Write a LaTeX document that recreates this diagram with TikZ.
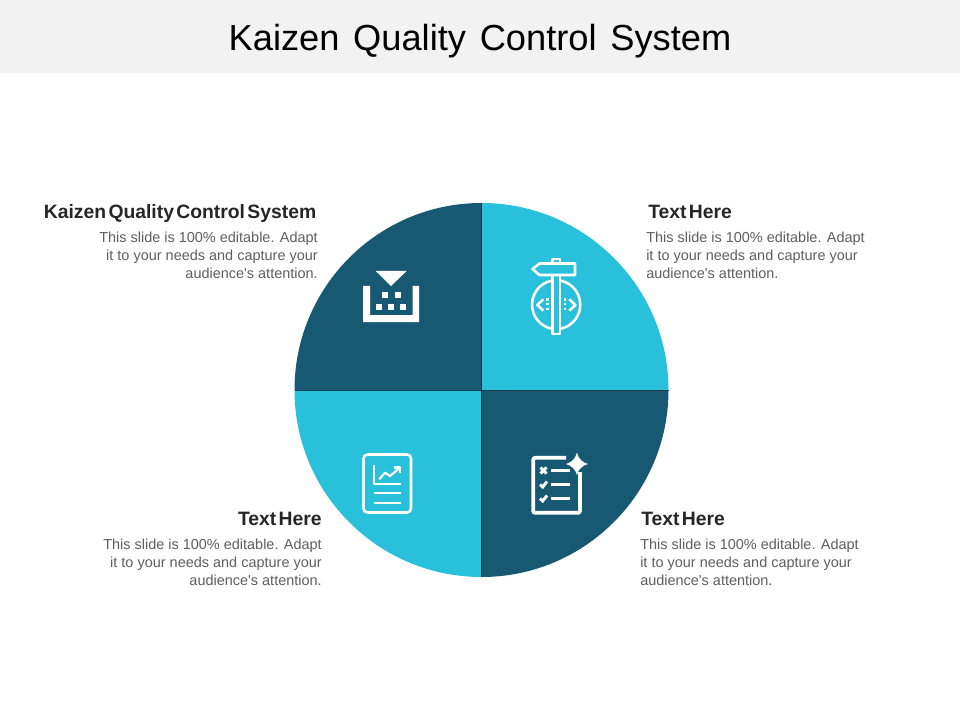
\documentclass[tikz,border=0pt]{standalone}
\usepackage{fontspec}
\setmainfont{Liberation Sans}
\newfontfamily\plainsans{Liberation Sans}
\definecolor{darkq}{HTML}{175873}
\definecolor{lightq}{HTML}{29C0DC}
\definecolor{headbg}{HTML}{F2F2F2}
\definecolor{bodyg}{HTML}{5F5F5F}
\definecolor{headk}{HTML}{262626}
\newcommand{\wgap}{\hspace{1.75pt}}
\tikzset{
  x=0.75pt,y=-0.75pt,
  heading/.style={inner sep=0pt,text=headk,font=\fontsize{14.5}{16}\selectfont\bfseries},
  bodytext/.style={inner sep=0pt,text=bodyg,font=\plainsans\fontsize{10.85}{13.25}\selectfont},
  icon/.style={draw=white,line width=1.9pt,fill=none,line join=round},
  iconthick/.style={draw=white,line width=2.8pt,fill=none}
}
\begin{document}
\begin{tikzpicture}
\useasboundingbox (0,0) rectangle (960,720);
\fill[white] (0,0) rectangle (960,720);
\fill[headbg] (0,0) rectangle (960,73);
\node[inner sep=0pt,anchor=base,font=\fontsize{27.2}{32}\selectfont,text=black] (title) at (480,51) {Kaizen\hspace{0.1em} Quality\hspace{0.1em} Control\hspace{0.1em} System};
% quadrants
\coordinate (c) at (481.5,390);
\fill[darkq] (c) -- ++(-187,0) arc[start angle=180,end angle=90,radius=140.25pt] -- cycle;
\fill[lightq] (c) -- ++(0,-187) arc[start angle=90,end angle=0,radius=140.25pt] -- cycle;
\fill[darkq] (c) -- ++(187,0) arc[start angle=0,end angle=-90,radius=140.25pt] -- cycle;
\fill[lightq] (c) -- ++(0,187) arc[start angle=270,end angle=180,radius=140.25pt] -- cycle;
\draw[darkq!70!black,line width=0.5pt] (294.5,390) -- (668.5,390);
\draw[darkq!70!black,line width=0.5pt] (481.5,203) -- (481.5,577);
% icon 1
\fill[white] (375.7,271) -- (406.7,271) -- (391,286) -- cycle;
\fill[white,even odd rule] (363,286) -- (370,286) -- (370,315) -- (412.5,315) -- (412.5,286) -- (419,286) -- (419,322) -- (363,322) -- cycle;
\foreach \px/\py in {385/295,397.5/295,378.7/307,391/307,403.3/307}
  \fill[white] (\px-3,\py-3) rectangle (\px+3,\py+3);
% icon 2
\draw[icon] (532.5,269) -- (539.5,263.5) -- (575,263.5) -- (575,275) -- (539.5,275) -- cycle;
\draw[icon] (552.3,263.5) -- (552.3,258.8) -- (560,258.8) -- (560,263.5);
\draw[icon] (552.3,275) -- (552.3,334) -- (560,334) -- (560,275);
\draw[icon] (552.3,280.5) arc[start angle=100,end angle=260,radius=18.4pt];
\draw[icon] (560,280.5) arc[start angle=80,end angle=-80,radius=18.4pt];
\draw[icon] (543.3,299.3) -- (537.3,305) -- (543.3,310.7);
\draw[icon] (569.3,299.3) -- (575.3,305) -- (569.3,310.7);
\draw[icon,line width=1.6pt,dash pattern=on 2pt off 1.6pt] (547.5,298) -- (547.5,312);
\draw[icon,line width=1.6pt,dash pattern=on 2pt off 1.6pt] (565,298) -- (565,312);
% icon 3
\draw[icon,rounded corners=3pt] (363.5,454.5) rectangle (411,512.5);
\draw[icon,line width=1.6pt] (374.3,465) -- (374.3,484) -- (401,484);
\draw[icon,line width=1.6pt] (379.3,479.3) -- (385,472.7) -- (390,476) -- (399,468.5);
\draw[icon,line width=1.6pt] (394,467.5) -- (400,467.5) -- (400,473);
\draw[icon,line width=1.6pt] (374.3,492.7) -- (401,492.7);
\draw[icon,line width=1.6pt] (374.3,502.7) -- (401,502.7);
% icon 4
\draw[iconthick,rounded corners=1.5pt] (566,457.8) -- (533.2,457.8) -- (533.2,512.8) -- (580,512.8) -- (580,472);
\fill[white] (576.9,452.5) .. controls (578.5,459) and (582,462) .. (588,464) .. controls (582,466) and (578.5,469) .. (576.9,475) .. controls (575.3,469) and (572,466) .. (566,464) .. controls (572,462) and (575.3,459) .. (576.9,452.5) -- cycle;
\draw[iconthick,line width=2.2pt] (540.5,467.5) -- (546.5,473.5) (546.5,467.5) -- (540.5,473.5);
\draw[iconthick,line width=2.2pt] (540,484.5) -- (542.7,487) -- (547,481.5);
\draw[iconthick,line width=2.2pt] (540,498.5) -- (542.7,501) -- (547,495.5);
\draw[iconthick,line width=2pt] (550.7,470.7) -- (569.5,470.7);
\draw[iconthick,line width=2pt] (550.7,484.3) -- (569.5,484.3);
\draw[iconthick,line width=2pt] (550.7,498.3) -- (569.5,498.3);
% texts
\node[heading,anchor=base east] (h1) at (316.5,218.5) {Kaizen\wgap Quality\wgap Control\wgap System};
\node[bodytext,anchor=north east,align=right] (b1) at (318,232) {This slide is 100\% editable. Adapt\\it to your needs and capture your\\audience's attention.};
\node[heading,anchor=base west] (h2) at (648,218.5) {Text\wgap Here};
\node[bodytext,anchor=north west,align=left] (b2) at (646,232) {This slide is 100\% editable. Adapt\\it to your needs and capture your\\audience's attention.};
\node[heading,anchor=base east] (h3) at (322,525.5) {Text\wgap Here};
\node[bodytext,anchor=north east,align=right] (b3) at (322,539) {This slide is 100\% editable. Adapt\\it to your needs and capture your\\audience's attention.};
\node[heading,anchor=base west] (h4) at (641,525.5) {Text\wgap Here};
\node[bodytext,anchor=north west,align=left] (b4) at (640,539) {This slide is 100\% editable. Adapt\\it to your needs and capture your\\audience's attention.};
\end{tikzpicture}
\end{document}
